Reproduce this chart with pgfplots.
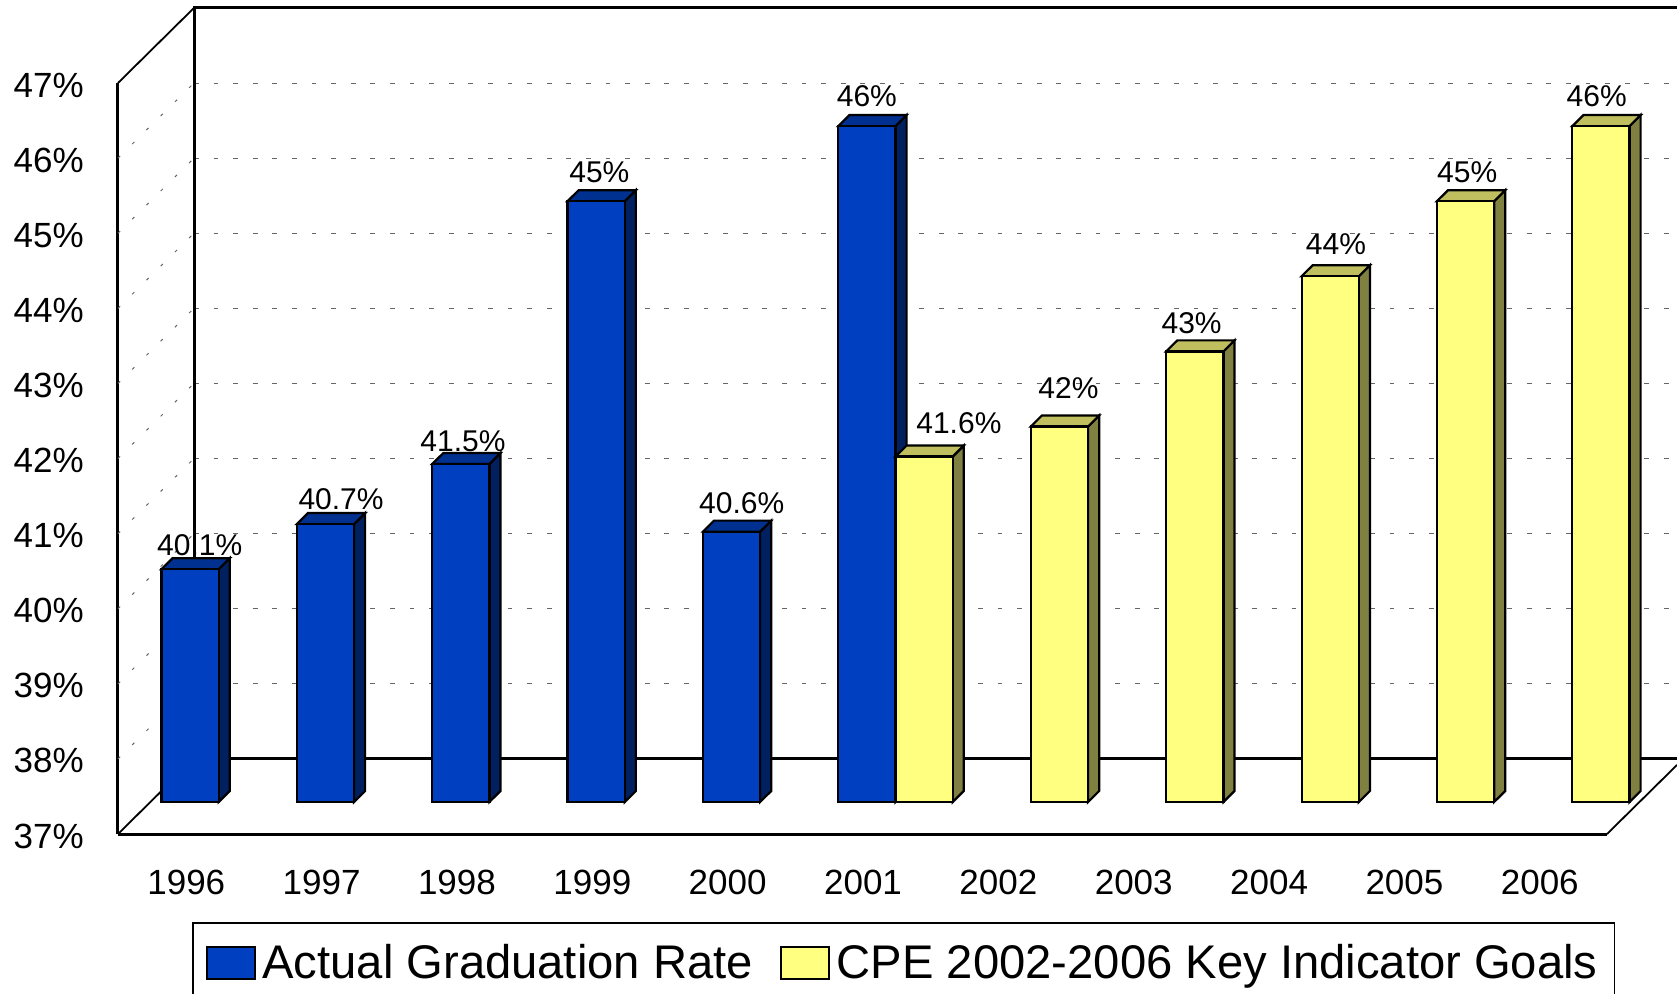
\documentclass[border=0pt]{standalone}
\usepackage{fontspec}
\setmainfont{Liberation Sans}
\usepackage{pgfplots}
\usepackage{pgfplotstable}
\pgfplotsset{compat=1.18}

\definecolor{bluefront}{RGB}{0,64,192}
\definecolor{bluetop}{RGB}{0,48,144}
\definecolor{blueside}{RGB}{0,32,96}
\definecolor{yelfront}{RGB}{255,255,128}
\definecolor{yeltop}{RGB}{191,191,96}
\definecolor{yelside}{RGB}{128,128,64}

% lx, ly: label offset from the top of the year's centre, in pt
\pgfplotstableread{
x    v     lx     ly
1996 40.1  -9.5   11.8
1997 40.7  -6.5   12.3
1998 41.5  -13.2  11.2
1999 45    -12.7  14.4
2000 40.6  -9.2   14.4
2001 46    -14.3  15
}\actual
\pgfplotstableread{
x    v     lx    ly
2001 41.6  31.7  16.6
2002 42    18.8  19.3
2003 43    12.7  13.9
2004 44    17.2  16
2005 45    15.1  14.4
2006 46    12.2  15
}\goals

% side and top faces of one series; #2 = left edge of the bar relative to the year
\newcommand{\depthfaces}[4]{%
  \pgfplotstablegetrowsof{#1}%
  \pgfmathtruncatemacro\lastrow{\pgfplotsretval-1}%
  \pgfplotsforeachungrouped \i in {0,...,\lastrow} {%
    \pgfplotstablegetelem{\i}{x}\of#1\let\yr\pgfplotsretval
    \pgfplotstablegetelem{\i}{v}\of#1\let\val\pgfplotsretval
    \pgfmathsetmacro\xl{\yr+#2}%
    \pgfmathsetmacro\xr{\xl+0.4226}%
    \pgfmathsetmacro\xrb{\xr+0.082}%
    \pgfmathsetmacro\xlb{\xl+0.082}%
    \pgfmathsetmacro\vb{\val+0.147}%
    \edef\faces{%
      \noexpand\addplot[forget plot,draw=black,line width=1.1pt,fill=#3]
        coordinates {(\xr,37) (\xrb,37.147) (\xrb,\vb) (\xr,\val)} -- cycle;
      \noexpand\addplot[forget plot,draw=black,line width=1.1pt,fill=#4]
        coordinates {(\xl,\val) (\xlb,\vb) (\xrb,\vb) (\xr,\val)} -- cycle;
    }\faces
  }%
}

\begin{document}
\begin{tikzpicture}
\useasboundingbox (0,0) rectangle (838.5pt,496.5pt);
\pgfplotsset{
  every axis/.append style={
    scale only axis, width=744.5pt, height=375.5pt,
    xmin=1995.5, xmax=2006.5, ymin=37, ymax=47, clip=false,
  },
  /pgf/number format/.cd, 1000 sep={}, assume math mode=true,
}
% walls and floor
\begin{axis}[
  at={(59pt,79.5pt)},
  axis x line*=bottom, axis y line*=left,
  axis line style={-, line width=1.5pt},
  major tick length=0pt,
  xtick={1996,...,2006}, ytick={37,...,47},
  yticklabel={\pgfmathprintnumber{\tick}\%},
  tick label style={font=\fontsize{17.5}{20}\selectfont},
  yticklabel style={xshift=-13.6pt, yshift=-1pt},
  xticklabel style={xshift=0.3pt, yshift=-14.7pt},
]
\pgfplotsinvokeforeach{39,...,47}{
  \draw[gray!80!black, line width=0.5pt, dash pattern=on 2.4pt off 7.4pt]
    (axis cs:1996.0615,#1) -- (axis cs:2007.0175,#1);
}
\pgfplotsinvokeforeach{38,...,46}{
  \draw[gray!80!black, line width=0.5pt, dash pattern=on 1.5pt off 8.5pt]
    (axis cs:1995.5,#1) -- (axis cs:1996.0615,#1+1);
}
\draw[line width=1.5pt] (axis cs:1996.0615,38) -- (axis cs:1996.0615,48) -- (axis cs:2007.0175,48);
\draw[line width=1.5pt] (axis cs:1996.0615,38) -- (axis cs:2007.0175,38);
\draw[line width=0.9pt] (axis cs:1995.5,47) -- (axis cs:1996.0615,48);
\draw[line width=0.9pt] (axis cs:1995.5,37) -- (axis cs:1996.0615,38);
\draw[line width=0.9pt] (axis cs:2006.5,37) -- (axis cs:2007.0175,37.92);
\end{axis}
% bars, set back from the front plane
\begin{axis}[
  at={(75.5pt,95.5pt)},
  hide axis,
  y coord trafo/.code={\pgfmathparse{#1-37}},
  legend style={
    at={(axis description cs:0.0275,-0.1598)}, anchor=north west,
    draw=black, line width=0.8pt, legend columns=2, font=\fontsize{23.6}{26}\selectfont,
    inner xsep=6.5pt, inner ysep=8.7pt,
    /tikz/every odd column/.append style={column sep=1.2pt},
    /tikz/every even column/.append style={column sep=11.6pt},
  },
  legend cell align=left,
  legend image code/.code={
    \draw[#1, line width=1.1pt] (0pt,-8pt) rectangle (24pt,8pt);
  },
  lbl/.style={
    ybar, bar width=28.6pt,
    point meta=rawy,
    visualization depends on={\thisrow{lx} \as \lx},
    visualization depends on={\thisrow{ly} \as \ly},
    nodes near coords={\pgfmathprintnumber[precision=1]{\pgfplotspointmeta}\%},
    every node near coord/.append style={
      anchor=center, xshift=\lx pt, yshift=\ly pt, text=black,
      font=\fontsize{15}{17}\selectfont, line width=0pt,
    },
  },
]
\depthfaces{\actual}{-0.4226}{blueside}{bluetop}
\addplot[lbl, draw=black, line width=1.1pt, fill=bluefront, bar shift=-14.3pt]
  table[x=x, y=v] {\actual};
\addlegendentry{Actual Graduation Rate}
\depthfaces{\goals}{0}{yelside}{yeltop}
\addplot[lbl, draw=black, line width=1.1pt, fill=yelfront, bar shift=14.3pt]
  table[x=x, y=v] {\goals};
\addlegendentry{CPE 2002-2006 Key Indicator Goals\hspace{-3pt}}
\end{axis}
\end{tikzpicture}
\end{document}
